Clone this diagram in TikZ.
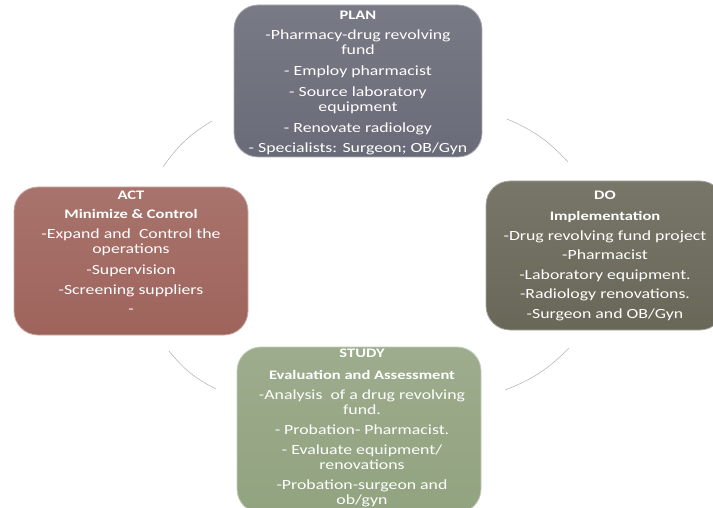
\documentclass[tikz,border=0pt]{standalone}
\usepackage{fontspec}
\setmainfont{Carlito}[FakeStretch=1.27]
\usetikzlibrary{positioning}
\definecolor{planclr}{RGB}{105,108,120}
\definecolor{doclr}{RGB}{104,103,88}
\definecolor{actclr}{RGB}{158,100,92}
\definecolor{studyclr}{RGB}{146,163,128}
\newcommand{\phasehd}[1]{{\fontsize{13}{15}\selectfont\bfseries #1}}
\begin{document}
\begin{tikzpicture}[x=1pt,y=1pt,
    phasebox/.style={rectangle,rounded corners=24pt,draw=#1!55!white,line width=0.8pt,
                     top color=#1!90!white,bottom color=#1,inner sep=0pt},
    phasetext/.style={text=white,align=center,inner sep=0pt,font=\fontsize{14}{15}\selectfont},
    cyclearc/.style={draw=black!28,line width=0.6pt}]
  \clip (0,0) rectangle (713,507);
  \useasboundingbox (0,0) rectangle (713,507);

  % boxes
  \node[phasebox=planclr,minimum width=248pt,minimum height=152pt] (plan) at (358,426) {};
  \node[phasebox=doclr,minimum width=238pt,minimum height=149pt] (do) at (605,251.5) {};
  \node[phasebox=actclr,minimum width=234pt,minimum height=148pt] (act) at (131,246) {};
  \node[phasebox=studyclr,minimum width=244pt,minimum height=166pt] (study) at (359,77) {};

  % texts
  \node[phasetext,below=6pt of plan.north] (plantxt) {\phasehd{PLAN}\\[5.5pt]
    -Pharmacy-drug revolving\\fund\\[6pt]
    - Employ pharmacist\\[5.5pt]
    - Source laboratory\\equipment\\[6pt]
    - Renovate radiology\\[5.5pt]
    - Specialists: Surgeon; OB/Gyn};
  \node[phasetext,below=10pt of do.north] (dotxt) {\phasehd{DO}\\[6pt]
    \phasehd{Implementation}\\[5pt]
    -Drug revolving fund project\\[4.5pt]
    -Pharmacist\\[4.5pt]
    -Laboratory equipment.\\[4.5pt]
    -Radiology renovations.\\[4.5pt]
    -Surgeon and OB/Gyn};
  \node[phasetext,below=4pt of act.north] (acttxt) {\phasehd{ACT}\\[4.5pt]
    \phasehd{Minimize \& Control}\\[4.5pt]
    -Expand and\ \ Control the\\operations\\[6pt]
    -Supervision\\[5pt]
    -Screening suppliers\\[4.5pt]
    -};
  \node[phasetext,below=2pt of study.north,xshift=3pt] (studytxt) {\phasehd{STUDY}\\[7pt]
    \phasehd{Evaluation and Assessment}\\[5pt]
    -Analysis\ \ of a drug revolving\\fund.\\[5pt]
    - Probation- Pharmacist.\\[5pt]
    - Evaluate equipment/\\renovations\\[5pt]
    -Probation-surgeon and\\ob/gyn};

  % cycle arcs
  \coordinate (a1s) at (163,340); \coordinate (a1e) at (212,386);
  \coordinate (a2s) at (507,388); \coordinate (a2e) at (568,345);
  \coordinate (a3s) at (569,159); \coordinate (a3e) at (505,117);
  \coordinate (a4s) at (216,118); \coordinate (a4e) at (169,156);
  \draw[cyclearc] (a1s) to[bend left=12] (a1e);
  \draw[cyclearc] (a2s) to[bend left=12] (a2e);
  \draw[cyclearc] (a3s) to[bend left=12] (a3e);
  \draw[cyclearc] (a4s) to[bend left=12] (a4e);
\end{tikzpicture}
\end{document}
